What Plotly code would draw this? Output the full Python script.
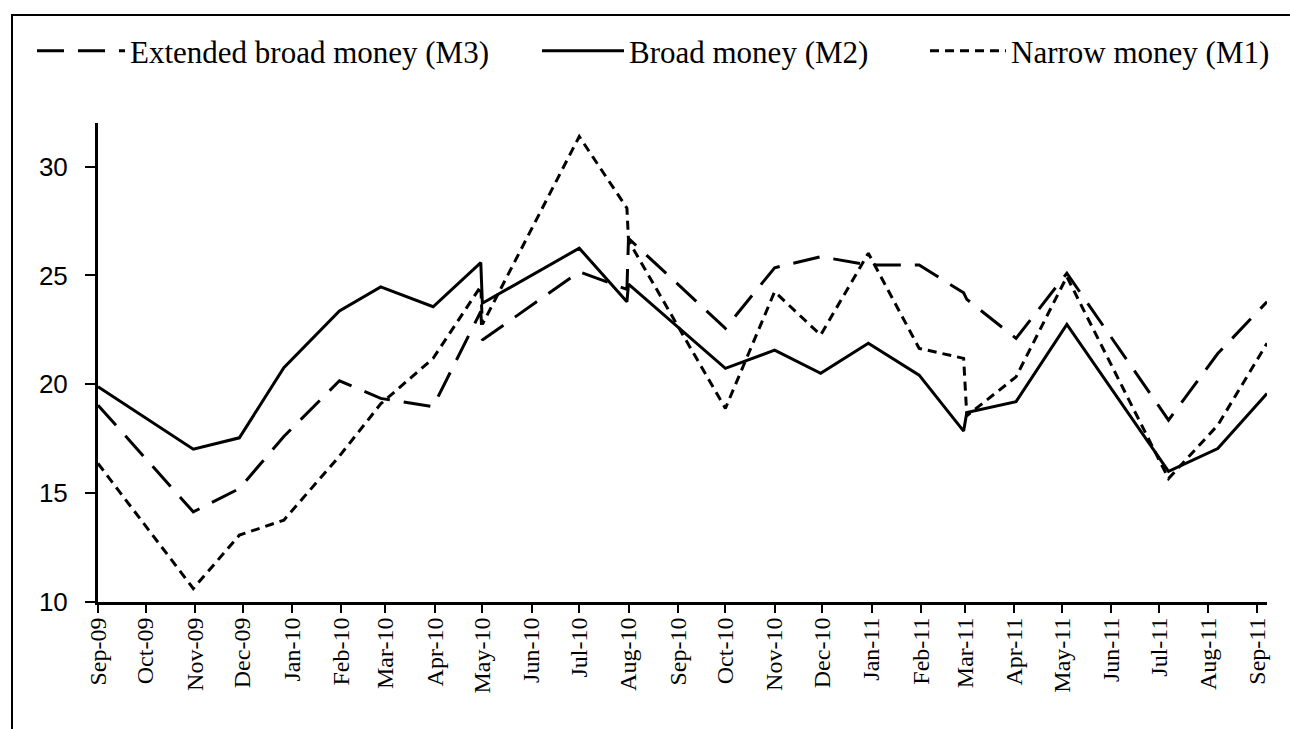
import plotly.graph_objects as go

# ---- data ----
dates = ["2009-09-01", "2009-10-31", "2009-11-29", "2009-12-27", "2010-01-31",
         "2010-02-26", "2010-03-31", "2010-04-30", "2010-05-01", "2010-07-01",
         "2010-07-31", "2010-08-01", "2010-10-01", "2010-11-01", "2010-11-30",
         "2010-12-30", "2011-01-31", "2011-02-28", "2011-03-02", "2011-04-02",
         "2011-05-04", "2011-07-07", "2011-08-07", "2011-09-07"]

m3 = [19.04, 14.14, 15.21, 17.6, 20.16, 19.35, 18.97, 23.35, 22.03, 25.17,
      24.36, 26.7, 22.57, 25.35, 25.86, 25.48, 25.48, 24.2, 23.9, 22.11,
      25.1, 18.35, 21.41, 23.79]

m2 = [19.89, 17.02, 17.54, 20.76, 23.37, 24.47, 23.56, 25.59, 23.72, 26.25,
      23.79, 24.6, 20.73, 21.57, 20.5, 21.88, 20.42, 17.85, 18.7, 19.2,
      22.75, 16.0, 17.05, 19.58]

m1 = [16.36, 10.62, 13.07, 13.76, 16.7, 19.1, 21.19, 24.5, 22.75, 31.38,
      28.09, 26.6, 18.89, 24.25, 22.26, 26.02, 21.65, 21.19, 18.55, 20.34,
      24.94, 15.67, 18.12, 21.88]

tick_dates = ["2009-09-01", "2009-10-01", "2009-11-01", "2009-12-01", "2010-01-01",
              "2010-02-01", "2010-03-01", "2010-04-01", "2010-05-01", "2010-06-01",
              "2010-07-01", "2010-08-01", "2010-09-01", "2010-10-01", "2010-11-01",
              "2010-12-01", "2011-01-01", "2011-02-01", "2011-03-01", "2011-04-01",
              "2011-05-01", "2011-06-01", "2011-07-01", "2011-08-01", "2011-09-01"]
tick_labels = ["Sep-09", "Oct-09", "Nov-09", "Dec-09", "Jan-10", "Feb-10", "Mar-10",
               "Apr-10", "May-10", "Jun-10", "Jul-10", "Aug-10", "Sep-10", "Oct-10",
               "Nov-10", "Dec-10", "Jan-11", "Feb-11", "Mar-11", "Apr-11", "May-11",
               "Jun-11", "Jul-11", "Aug-11", "Sep-11"]
y_ticks = [10, 15, 20, 25, 30]

series_names = ["Extended broad money (M3)", "Broad money (M2)", "Narrow money (M1)"]

# ---- layout geometry ----
W, H = 1290, 729
L, R, T, B = 98, 23, 123, 127
PW, PH = W - L - R, H - T - B


def px_x(px):
    return (px - L) / PW


def px_y(py):
    return (H - B - py) / PH


SERIF = "Liberation Serif, Times New Roman, serif"
SANS = "Liberation Sans, Arial, sans-serif"

fig = go.Figure()
fig.add_trace(go.Scatter(x=dates, y=m3, mode="lines", name=series_names[0],
                         legend="legend",
                         line=dict(color="black", width=3, dash="27px,14px")))
fig.add_trace(go.Scatter(x=dates, y=m2, mode="lines", name=series_names[1],
                         legend="legend2",
                         line=dict(color="black", width=3)))
fig.add_trace(go.Scatter(x=dates, y=m1, mode="lines", name=series_names[2],
                         legend="legend3",
                         line=dict(color="black", width=3, dash="9px,6px")))


def leg(x_text, sample):
    return dict(orientation="h", x=px_x(x_text - sample - 10), xanchor="left",
                y=px_y(51), yanchor="middle",
                font=dict(family=SERIF, size=31, color="black"),
                itemwidth=sample, bgcolor="rgba(0,0,0,0)")


fig.update_layout(
    width=W, height=H,
    margin=dict(l=L, r=R, t=T, b=B),
    paper_bgcolor="white", plot_bgcolor="white",
    font=dict(family=SERIF, color="black"),
    showlegend=True,
    legend=leg(130, 88),
    legend2=leg(629, 82),
    legend3=leg(1011, 76),
    xaxis=dict(type="date", range=["2009-09-01", "2011-09-07"],
               tickmode="array", tickvals=tick_dates, ticktext=tick_labels,
               tickangle=-90, ticks="outside", ticklen=8, tickwidth=2,
               tickcolor="black", showline=True, linewidth=3, linecolor="black",
               showgrid=False, zeroline=False, ticklabelstandoff=-5,
               tickfont=dict(family=SERIF, size=24, color="black")),
    yaxis=dict(range=[10, 32], tickmode="array", tickvals=y_ticks,
               ticks="outside", ticklen=10, tickwidth=2, tickcolor="black",
               showline=True, linewidth=3, linecolor="black",
               showgrid=False, zeroline=False, ticklabelstandoff=12,
               tickfont=dict(family=SANS, size=26, color="black")),
    shapes=[dict(type="rect", xref="paper", yref="paper",
                 x0=px_x(12), x1=px_x(1310), y0=px_y(750), y1=px_y(15),
                 line=dict(color="black", width=2), fillcolor="rgba(0,0,0,0)",
                 layer="below")],
)

fig.write_html("out.html", config={"displayModeBar": False},
               post_script="document.body.style.margin='0';")
